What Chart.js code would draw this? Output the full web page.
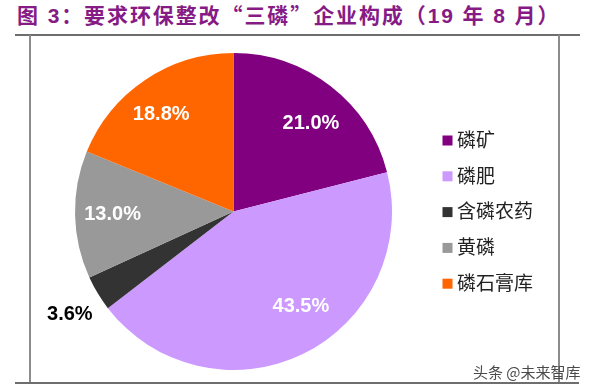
<!DOCTYPE html>
<html>
<head>
<meta charset="utf-8">
<script src="https://cdn.jsdelivr.net/npm/chart.js@4"></script>
<style>
  html, body { margin: 0; padding: 0; background: #ffffff; }
  body { width: 593px; height: 390px; position: relative; overflow: hidden; }
  #title { position: absolute; left: 17px; top: 4px; font: bold 21px/21px "Liberation Sans", Arial, "Noto Sans CJK SC", sans-serif; letter-spacing: 1.9px; color: #861b86; white-space: nowrap; }
  #title .q { font-family: "Noto Sans CJK SC", sans-serif; }
  .hline { position: absolute; height: 2px; background: #6e6e6e; }
  .vline { position: absolute; width: 2px; background: #8c8c8c; }
  #wm { position: absolute; left: 473px; top: 363px; font: 15px/17px "Noto Sans CJK SC", sans-serif; color: #4a4a4a; white-space: nowrap; }
  #c { position: absolute; left: 0; top: 0; }
</style>
</head>
<body>
<div id="title">图 3：要求环保整改<span class="q">“</span>三磷<span class="q">”</span>企业构成（19 年 8 月）</div>
<div class="hline" style="left:15px; top:34px; width:565px;"></div>
<div class="vline" style="left:29px; top:35px; height:349px;"></div>
<div class="vline" style="left:558px; top:35px; height:349px;"></div>
<div class="hline" style="left:15px; top:382px; width:564px;"></div>
<canvas id="c" width="593" height="390"></canvas>
<div id="wm">头条 @未来智库</div>
<script>
const categories = ['磷矿', '磷肥', '含磷农药', '黄磷', '磷石膏库'];
const shares = [21.0, 43.5, 3.6, 13.0, 18.8];
const sliceColors = ['#800080', '#CC99FF', '#333333', '#999999', '#FF6600'];

const sliceLabels = {
  id: 'sliceLabels',
  afterDatasetsDraw(chart, args, opts) {
    const ctx = chart.ctx;
    const meta = chart.getDatasetMeta(0);
    const data = chart.data.datasets[0].data;
    meta.data.forEach((arc, i) => {
      const p = arc.getProps(['x', 'y', 'startAngle', 'endAngle', 'outerRadius'], true);
      const mid = (p.startAngle + p.endAngle) / 2 + opts.angleShift[i] * Math.PI / 180;
      const r = p.outerRadius * opts.radiusFrac[i];
      const x = p.x + Math.cos(mid) * r;
      const y = p.y + Math.sin(mid) * r;
      ctx.save();
      ctx.font = 'bold 20px "Liberation Sans", Arial, sans-serif';
      ctx.fillStyle = opts.colors[i];
      ctx.textAlign = 'center';
      ctx.textBaseline = 'middle';
      ctx.fillText(data[i].toFixed(1) + '%', x, y);
      ctx.restore();
    });
  }
};

const sideLegend = {
  id: 'sideLegend',
  afterDraw(chart, args, opts) {
    const ctx = chart.ctx;
    const ds = chart.data.datasets[0];
    chart.data.labels.forEach((lab, i) => {
      const cy = opts.top + i * opts.step;
      ctx.save();
      ctx.fillStyle = ds.backgroundColor[i];
      ctx.fillRect(opts.boxX, cy - opts.box / 2, opts.box, opts.box);
      ctx.fillStyle = opts.color;
      ctx.font = opts.font;
      ctx.textAlign = 'left';
      ctx.textBaseline = 'middle';
      ctx.fillText(lab, opts.textX, cy - 1);
      ctx.restore();
    });
  }
};

new Chart(document.getElementById('c'), {
  type: 'pie',
  data: {
    labels: categories,
    datasets: [{
      data: shares,
      backgroundColor: sliceColors,
      borderWidth: 0
    }]
  },
  options: {
    responsive: false,
    animation: false,
    events: [],
    layout: { padding: { left: 75, right: 201, top: 53, bottom: 20 } },
    plugins: {
      legend: { display: false },
      tooltip: { enabled: false },
      sliceLabels: {
        angleShift: [3.5, -9.5, -1.1, -0.3, -2.9],
        radiusFrac: [0.74, 0.733, 1.22, 0.763, 0.762],
        colors: ['#ffffff', '#ffffff', '#000000', '#ffffff', '#ffffff']
      },
      sideLegend: {
        top: 140.5, step: 35.8, box: 10, boxX: 442.5, textX: 457,
        color: '#222222', font: '19px "Noto Sans CJK SC", sans-serif'
      }
    }
  },
  plugins: [sliceLabels, sideLegend]
});
</script>
</body>
</html>
